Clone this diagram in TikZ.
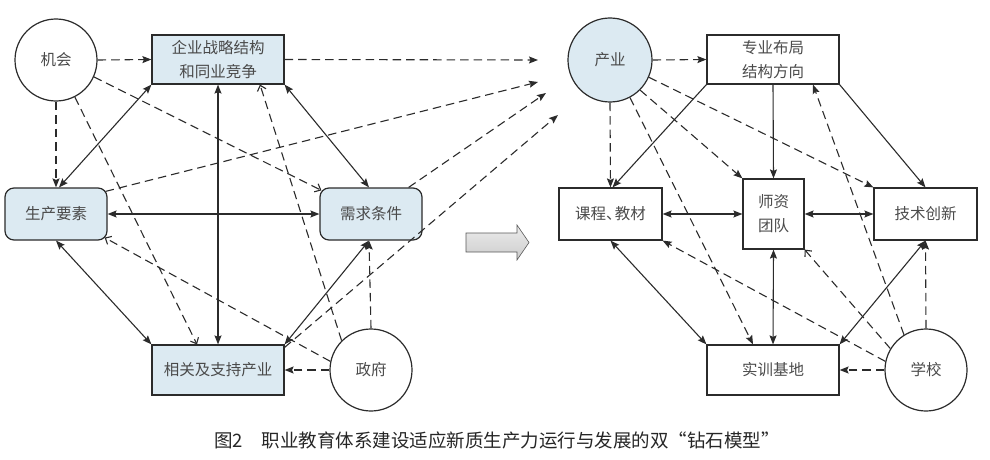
\documentclass[tikz,border=0pt]{standalone}
\usepackage{fontspec}
\setmainfont{Noto Sans CJK SC}
\usetikzlibrary{arrows.meta,calc}
\definecolor{lblue}{HTML}{DCEAF2}
\definecolor{edge}{HTML}{2B2B2B}
\definecolor{txt}{HTML}{4A4A4A}
\begin{document}
\begin{tikzpicture}[x=1pt,y=-1pt,
  every node/.style={font=\fontsize{15.5}{24}\selectfont, text=txt},
  circ/.style={circle, draw=edge, line width=1.2pt, minimum size=82pt, inner sep=0pt},
  bbox/.style={rectangle, draw=edge, line width=1.2pt, align=center, inner sep=0pt},
  rbox/.style={rectangle, rounded corners=9pt, draw=edge, line width=1.2pt, align=center, fill=lblue, inner sep=0pt},
  sol/.style={draw=edge, line width=1.1pt},
  dsh/.style={draw=edge, line width=1.1pt, dash pattern=on 8.5pt off 5pt},
  tip/.tip={Stealth[length=9pt,width=7pt,inset=1.5pt]},
  otip/.tip={Straight Barb[length=5pt,width=9pt,line width=1.1pt]},
  one/.style={-tip},
  both/.style={tip-tip},
  open/.style={-otip}
]
\useasboundingbox (0,0) rectangle (990,460);
% ---------- left diamond ----------
\node[circ] (jh) at (56,60) {机会};
\node[bbox, fill=lblue, minimum width=132pt, minimum height=49pt] (qy) at (218,59.5) {企业战略结构\\和同业竞争};
\node[rbox, minimum width=102pt, minimum height=52pt] (sc) at (56,214) {生产要素};
\node[rbox, minimum width=102pt, minimum height=52pt] (xq) at (371,214) {需求条件};
\node[bbox, fill=lblue, minimum width=132pt, minimum height=50pt] (xg) at (218,370) {相关及支持产业};
\node[circ] (zf) at (371,370) {政府};

\draw[dsh,one] (jh.east) -- (qy.west);
\draw[dsh,one] (jh.south) -- (sc.north);
\draw[dsh,open] (jh.-63) -- ([xshift=-21pt]xg.north);
\draw[dsh,open] (jh.-24) -- ([shift={(2,3)}]xq.north west);
\draw[sol,both] (qy.south west) -- ([xshift=3pt]sc.north);
\draw[sol,both] (qy.south) -- (xg.north);
\draw[sol,both] (qy.south east) -- ([xshift=-2pt]xq.north);
\draw[dsh,open] (zf.135) -- ([xshift=42pt]qy.south);
\draw[sol,both] (sc.east) -- (xq.west);
\draw[sol,both] (sc.south) -- (xg.north west);
\draw[sol,both] ([xshift=-2pt]xq.south) -- (xg.north east);
\draw[dsh,open] (zf.168) -- ([shift={(-3,-3)}]sc.south east);
\draw[dsh,one] (zf.west) -- (xg.east);
\draw[dsh,one] (zf.north) -- ([xshift=-2pt]xq.south);

% ---------- towards right ----------
\coordinate (c1) at (538,60);
\coordinate (c2) at (538,82);
\coordinate (c3) at (546,93);
\coordinate (c4) at (558,115);
\draw[dsh,one] (qy.east) -- (c1);
\draw[dsh,one] ([shift={(-2,4)}]sc.north east) -- (c2);
\draw[dsh,one] ([xshift=-14pt]xq.north east) -- (c3);
\draw[dsh,one] ([shift={(0,3)}]xg.north east) -- (c4);

% ---------- block arrow ----------
\path[draw=gray!70!black, line width=0.6pt, top color=gray!15, bottom color=gray!40]
  (466,233) -- (517,233) -- (517,225) -- (529,242.5) -- (517,260) -- (517,252) -- (466,252) -- cycle;

% ---------- right diamond ----------
\node[circ, fill=lblue, minimum size=84pt] (cy) at (610,60) {产业};
\node[bbox, minimum width=132pt, minimum height=49pt] (zy) at (773,59.5) {专业布局\\结构方向};
\node[bbox, minimum width=103pt, minimum height=52pt] (kc) at (610.5,214) {课程、\kern-0.45em 教材};
\node[bbox, minimum width=61pt, minimum height=70pt] (sz) at (773.5,214) {师资\\团队};
\node[bbox, minimum width=103pt, minimum height=52pt] (js) at (925.5,214) {技术创新};
\node[bbox, minimum width=132pt, minimum height=50pt] (sx) at (773,370) {实训基地};
\node[circ] (xx) at (926,370) {学校};

\draw[dsh,one] (cy.east) -- (zy.west);
\draw[dsh,one] (cy.south) -- (kc.north);
\draw[sol,one] (zy.south west) -- ([xshift=2pt]kc.north);
\draw[sol,one] (zy.south) -- (sz.north);
\draw[sol,one] (zy.south east) -- (js.north);
\draw[dsh,one] (cy.-45) -- (sz.north west);
\draw[dsh,one] (cy.-24) -- (js.north west);
\draw[dsh,one] (cy.-62) -- ([xshift=-20pt]sx.north);
\draw[dsh,one] (xx.122) -- ([xshift=40pt]zy.south);
\draw[dsh,one] (xx.north) -- (js.south);
\draw[dsh,one] (xx.west) -- (sx.east);
\draw[dsh,one] (xx.168) -- (kc.south east);
\draw[dsh,open] (xx.149) -- (sz.south east);
\draw[sol,both] (kc.east) -- (sz.west);
\draw[sol,both] (sz.east) -- (js.west);
\draw[sol,both] (kc.south) -- (sx.north west);
\draw[sol,both] (sz.south) -- (sx.north);
\draw[sol,both] (js.south) -- (sx.north east);

% ---------- caption ----------
\node[font=\fontsize{18.5}{22}\selectfont, text=black!85] (cap) at (497,440) {图2\hspace{1em}职业教育体系建设适应新质生产力运行与发展的双“钻石模型”};
\end{tikzpicture}
\end{document}
